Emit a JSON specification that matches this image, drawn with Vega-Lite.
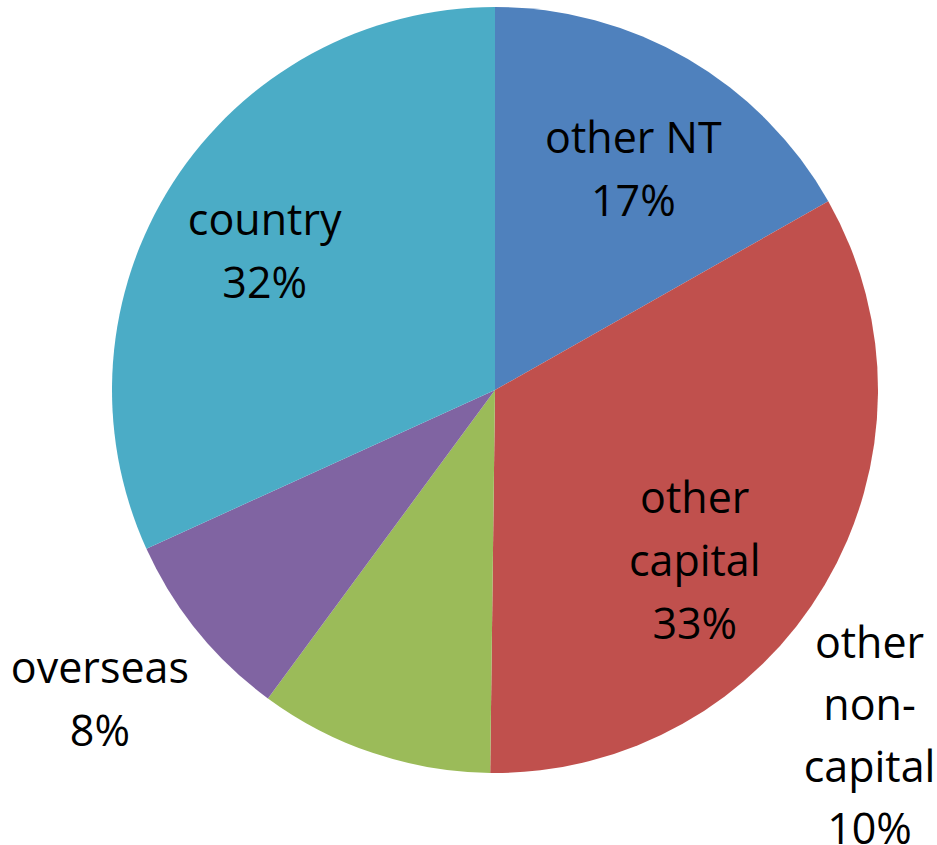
{
  "$schema": "https://vega.github.io/schema/vega-lite/v6.json",
  "autosize": "none",
  "width": 874,
  "height": 780,
  "padding": {"left": 58, "top": 0, "right": 5, "bottom": 65},
  "background": "white",
  "data": {
    "values": [
      {"name": "other NT", "value": 16.8, "label": "other NT\n17%"},
      {"name": "other capital", "value": 33.4, "label": "other\ncapital\n33%"},
      {"name": "other non-capital", "value": 9.9, "label": "other\nnon-\ncapital\n10%"},
      {"name": "overseas", "value": 8.1, "label": "overseas\n8%"},
      {"name": "country", "value": 31.8, "label": "country\n32%"}
    ]
  },
  "transform": [
    {"window": [{"op": "sum", "field": "value", "as": "cum"}], "frame": [null, 0]},
    {"calculate": "datum.cum - datum.value", "as": "start"},
    {"calculate": "datum.cum - datum.value / 2", "as": "mid"}
  ],
  "config": {"view": {"stroke": null}},
  "layer": [
    {
      "mark": {"type": "arc", "outerRadius": 383},
      "encoding": {
        "theta": {"field": "start", "type": "quantitative", "scale": {"domain": [0, 100], "range": [0, 6.283185307]}},
        "theta2": {"field": "cum"},
        "color": {
          "field": "name", "type": "nominal", "legend": null,
          "scale": {
            "domain": ["other NT", "other capital", "other non-capital", "overseas", "country"],
            "range": ["#4F81BD", "#C0504D", "#9BBB59", "#8064A2", "#4BACC6"]
          }
        }
      }
    },
    {
      "transform": [{"filter": "datum.name == 'other NT'"}],
      "mark": {"type": "text", "radius": 286, "thetaOffset": -0.023, "font": "Open Sans", "fontSize": 43, "lineHeight": 63, "lineBreak": "\n", "align": "center", "baseline": "middle", "color": "black"},
      "encoding": {"theta": {"field": "mid", "type": "quantitative", "scale": {"domain": [0, 100], "range": [0, 6.283185307]}}, "text": {"field": "label"}}
    },
    {
      "transform": [{"filter": "datum.name == 'other capital'"}],
      "mark": {"type": "text", "radius": 228, "thetaOffset": -0.031, "font": "Open Sans", "fontSize": 43, "lineHeight": 63, "lineBreak": "\n", "align": "center", "baseline": "middle", "color": "black"},
      "encoding": {"theta": {"field": "mid", "type": "quantitative", "scale": {"domain": [0, 100], "range": [0, 6.283185307]}}, "text": {"field": "label"}}
    },
    {
      "transform": [{"filter": "datum.name == 'other non-capital'"}],
      "mark": {"type": "text", "radius": 453, "thetaOffset": -1.297, "font": "Open Sans", "fontSize": 43, "lineHeight": 62, "lineBreak": "\n", "align": "center", "baseline": "middle", "color": "black"},
      "encoding": {"theta": {"field": "mid", "type": "quantitative", "scale": {"domain": [0, 100], "range": [0, 6.283185307]}}, "text": {"field": "label"}}
    },
    {
      "transform": [{"filter": "datum.name == 'overseas'"}],
      "mark": {"type": "text", "radius": 484, "thetaOffset": 0.066, "font": "Open Sans", "fontSize": 43, "lineHeight": 63, "lineBreak": "\n", "align": "center", "baseline": "middle", "color": "black"},
      "encoding": {"theta": {"field": "mid", "type": "quantitative", "scale": {"domain": [0, 100], "range": [0, 6.283185307]}}, "text": {"field": "label"}}
    },
    {
      "transform": [{"filter": "datum.name == 'country'"}],
      "mark": {"type": "text", "radius": 285, "thetaOffset": 0.058, "font": "Open Sans", "fontSize": 43, "lineHeight": 63, "lineBreak": "\n", "align": "center", "baseline": "middle", "color": "black"},
      "encoding": {"theta": {"field": "mid", "type": "quantitative", "scale": {"domain": [0, 100], "range": [0, 6.283185307]}}, "text": {"field": "label"}}
    }
  ]
}
